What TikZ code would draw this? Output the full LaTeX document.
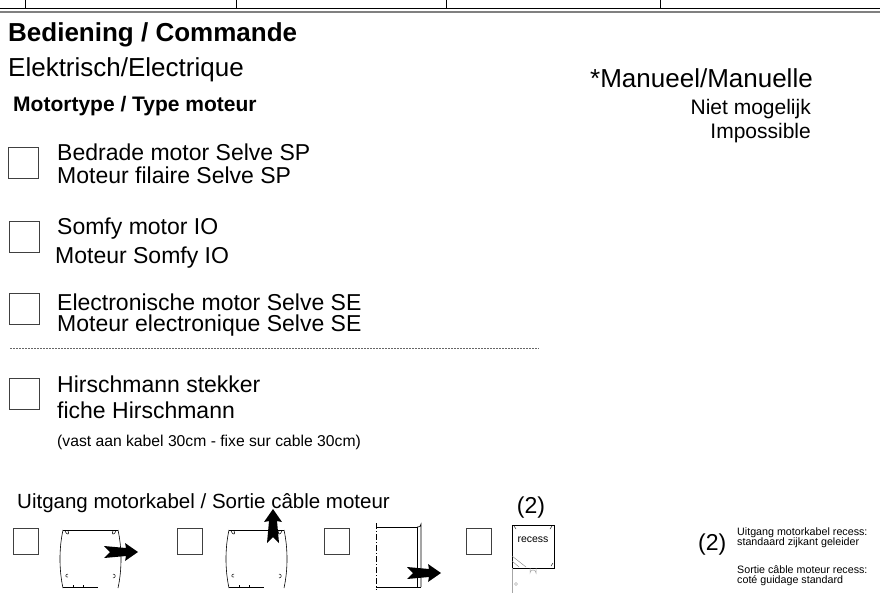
\documentclass[tikz,border=0pt]{standalone}
\usepackage{fontspec}
\setmainfont{Liberation Sans}
\usetikzlibrary{positioning}

\newcommand{\fsz}[1]{\fontsize{#1}{#1}\selectfont}

\begin{document}
\begin{tikzpicture}[x=1pt, y=-1pt, every node/.style={inner sep=0pt, anchor=base west},
    chk/.style={draw=black!75, line width=0.8pt, minimum width=30, minimum height=31, anchor=north west},
    smallchk/.style={chk, minimum width=25, minimum height=26},
    thin line/.style={line width=0.6pt}]

    \useasboundingbox (0,0) rectangle (880,608);

    % 1. kopregel met lijnen
    \draw[line width=1.2pt] (0,8.5) -- (880,8.5);
    \draw[gray, line width=0.8pt] (0,11) -- (880,11);
    \draw[gray, line width=0.8pt] (0,12.8) -- (880,12.8);
    \foreach \x in {25,236,446,660} {
        \draw[line width=0.8pt] (\x,0) -- (\x,8);
    }

    % 2. titels
    \node[font=\bfseries\fsz{26}] (title) at (8,41) {Bediening / Commande};
    \node[font=\fsz{26}] (elec) at (8,76) {Elektrisch/Electrique};
    \node[font=\bfseries\fsz{21}] (mtype) at (13,111) {Motortype / Type moteur};
    \node[font=\fsz{26}] (manual) at (590,87) {*Manueel/Manuelle};
    \node[font=\fsz{21}, anchor=base east] (niet) at (811,114) {Niet mogelijk};
    \node[font=\fsz{21}, anchor=base east] (imposs) at (811,138) {Impossible};

    % 3. motortypes met vakjes
    \node[chk] (box1) at (8,147) {};
    \node[font=\fsz{23}] (sp1) at (57,160) {Bedrade motor Selve SP};
    \node[font=\fsz{23}] (sp2) at (57,183) {Moteur filaire Selve SP};

    \node[chk] (box2) at (9,221) {};
    \node[font=\fsz{23}] (io1) at (57,234) {Somfy motor IO};
    \node[font=\fsz{23}] (io2) at (55,263) {Moteur Somfy IO};

    \node[chk] (box3) at (9,293) {};
    \node[font=\fsz{23}] (se1) at (57,310) {Electronische motor Selve SE};
    \node[font=\fsz{23}] (se2) at (57,331) {Moteur electronique Selve SE};

    \draw[black!60, line width=0.5pt, dash pattern=on 2pt off 1pt] (10,348) -- (539,348);

    \node[chk] (box4) at (9,378) {};
    \node[font=\fsz{23}] (hs1) at (57,392) {Hirschmann stekker};
    \node[font=\fsz{23}] (hs2) at (57,418) {fiche Hirschmann};
    \node[font=\fsz{15.7}] (hs3) at (57,446) {(vast aan kabel 30cm - fixe sur cable 30cm)};

    % 4. uitgang motorkabel
    \node[font=\fsz{20.5}] (exit) at (17,508) {Uitgang motorkabel / Sortie câble moteur};
    \node[smallchk] (ex1) at (13,528) {};
    \node[smallchk] (ex2) at (177,528) {};
    \node[smallchk] (ex3) at (324,528) {};
    \node[smallchk] (ex4) at (466,528) {};

    % vooraanzicht kast (2x)
    \foreach \ox in {61,227} {
        \draw[thin line] (\ox+2,530) -- (\ox+57,530);
        \draw[thin line] (\ox+2,530) .. controls (\ox-2,548) and (\ox-2,570) .. (\ox+2,588);
        \draw[thin line] (\ox+57,530) .. controls (\ox+61,548) and (\ox+61,570) .. (\ox+57,588);
        \draw[thin line] (\ox+2,587) -- (\ox+37,587);
        \foreach \t in {12,22} {
            \draw[line width=0.4pt] (\ox+\t,587) -- (\ox+\t,585);
        }
        % krulletjes in de hoeken
        \draw[line width=0.5pt] (\ox+4,531) .. controls (\ox+6,536) and (\ox+9,534) .. (\ox+7,531);
        \draw[line width=0.5pt] (\ox+55,531) .. controls (\ox+53,536) and (\ox+50,534) .. (\ox+52,531);
        \draw[line width=0.5pt] (\ox+7,574) .. controls (\ox+4,574) and (\ox+4,578) .. (\ox+7,577);
        \draw[line width=0.5pt] (\ox+52,574) .. controls (\ox+55,574) and (\ox+55,578) .. (\ox+52,578);
    }

    % zijaanzicht
    \draw[line width=0.5pt, dash pattern=on 6pt off 2pt on 1pt off 2pt] (376,523) -- (376,590);
    \draw[thin line] (376,527) -- (417,527) -- (417,587);
    \draw[thin line] (417,527) -- (418,527) arc[start angle=90, end angle=0, radius=3] -- (421,587);
    \draw[thin line] (376,587) -- (421,587);

    % recess
    \node[font=\fsz{23}, anchor=base] (two) at (531,513) {(2)};
    \draw[thin line] (512,525) rectangle (554,568);
    \node[font=\fsz{10.5}, anchor=center] (rec) at (533,540) {recess};
    \draw[line width=0.4pt] (514,526) -- (516,529) (552,526) -- (550,529) (551,566) -- (553,563);
    \draw[gray, line width=0.4pt] (512,556) -- (526,567) (512,561) -- (519,567);
    \draw[gray!70, line width=0.5pt] (512,568) -- (512,593);
    \draw[gray!70, line width=0.5pt] (530,568) -- (530,573) arc[start angle=180, end angle=360, radius=3] -- (536,568);
    \draw[gray!60, line width=0.4pt] (516,584) circle[radius=1.5];

    % dikke pijlen
    \begin{scope}[shift={(104,552)}]
        \fill (0,-6) -- (22,-4) -- (21,-9) -- (34,0) -- (21,9) -- (22,4) -- (0,6) -- (6,0) -- cycle;
    \end{scope}
    \begin{scope}[shift={(273,543)}, rotate=90]
        \fill (0,-6) -- (22,-4) -- (21,-9) -- (34,0) -- (21,9) -- (22,4) -- (0,6) -- (6,0) -- cycle;
    \end{scope}
    \begin{scope}[shift={(407,573)}]
        \fill (0,-6) -- (22,-4) -- (21,-9) -- (34,0) -- (21,9) -- (22,4) -- (0,6) -- (6,0) -- cycle;
    \end{scope}

    % 5. opmerking (2)
    \node[font=\fsz{23}] (note) at (698,550) {(2)};
    \node[font=\fsz{10.7}, align=left, anchor=base west] (nl) at (737,545) {Uitgang motorkabel recess:\\[-1.5pt]standaard zijkant geleider};
    \node[font=\fsz{10.7}, align=left, anchor=base west] (fr) at (737,583) {Sortie câble moteur recess:\\[-1.5pt]coté guidage standard};

\end{tikzpicture}
\end{document}
